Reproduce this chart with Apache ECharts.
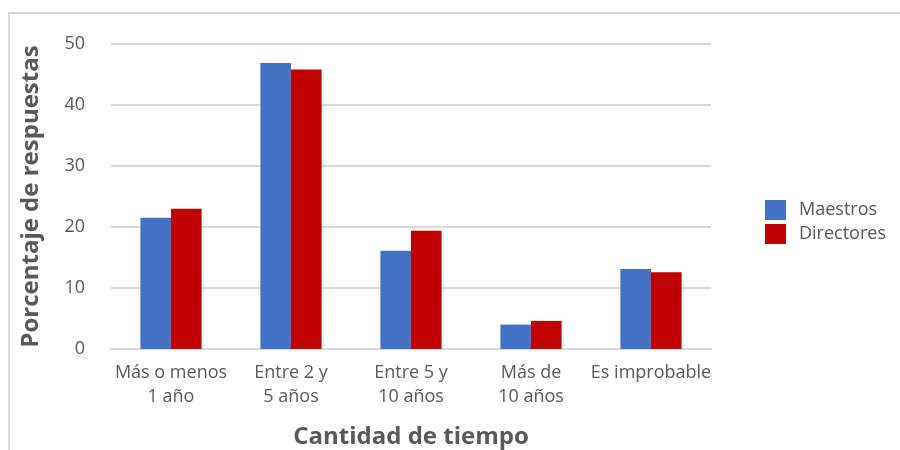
<!DOCTYPE html>
<html><head><meta charset="utf-8">
<script src="https://cdn.jsdelivr.net/npm/echarts@6/dist/echarts.min.js"></script>
<style>html,body{margin:0;padding:0;background:#fff}#c{width:900px;height:450px}</style>
</head><body><div id="c"></div>
<script>
const categories = ['Más o menos\n1 año', 'Entre 2 y\n5 años', 'Entre 5 y\n10 años', 'Más de\n10 años', 'Es improbable'];
const maestros = [21.5, 46.9, 16.1, 4.0, 13.1];
const directores = [23.0, 45.8, 19.4, 4.6, 12.6];
const yTicks = [0, 10, 20, 30, 40, 50];

const tickFont = '"Open Sans", "Roboto", sans-serif';
const titleFont = '"Open Sans", "Noto Sans", sans-serif';
const chart = echarts.init(document.getElementById('c'));
chart.setOption({
  animation: false,
  graphic: [{type: 'rect', shape: {x: 9, y: 13, width: 1000, height: 500}, style: {fill: 'none', stroke: '#d9d9d9', lineWidth: 2}, silent: true}],
  grid: {left: 111, right: 189, top: 44, bottom: 101, outerBoundsMode: 'none', containLabel: false},
  legend: {
    orient: 'vertical', left: 760, top: 195, itemWidth: 21, itemHeight: 20, itemGap: 4, icon: 'rect',
    textStyle: {fontFamily: tickFont, fontSize: 18, color: '#595959', padding: [0, 0, 0, 8]},
    data: ['Maestros', 'Directores']
  },
  xAxis: {
    type: 'category', data: categories,
    axisLine: {lineStyle: {color: '#d9d9d9', width: 2}}, axisTick: {show: false},
    axisLabel: {fontFamily: tickFont, fontSize: 18, color: '#595959', lineHeight: 24, margin: 12, interval: 0},
    name: 'Cantidad de tiempo', nameLocation: 'middle', nameGap: 76,
    nameTextStyle: {fontFamily: titleFont, fontWeight: 'bold', fontSize: 24, color: '#595959'}
  },
  yAxis: {
    type: 'value', min: 0, max: 50, interval: 10,
    axisLabel: {fontFamily: tickFont, fontSize: 18, color: '#595959', margin: 26,
      formatter: v => yTicks.includes(v) ? String(v) : ''},
    splitLine: {lineStyle: {color: '#d9d9d9', width: 2}},
    axisLine: {show: false}, axisTick: {show: false},
    name: 'Porcentaje de respuestas', nameLocation: 'middle', nameGap: 68,
    nameTextStyle: {fontFamily: titleFont, fontWeight: 'bold', fontSize: 24, color: '#595959'}
  },
  series: [
    {name: 'Maestros', type: 'bar', data: maestros, barGap: '0%', barCategoryGap: '49%', itemStyle: {color: '#4472c4'}},
    {name: 'Directores', type: 'bar', data: directores, barGap: '0%', barCategoryGap: '49%', itemStyle: {color: '#c00000'}}
  ]
});
</script></body></html>
